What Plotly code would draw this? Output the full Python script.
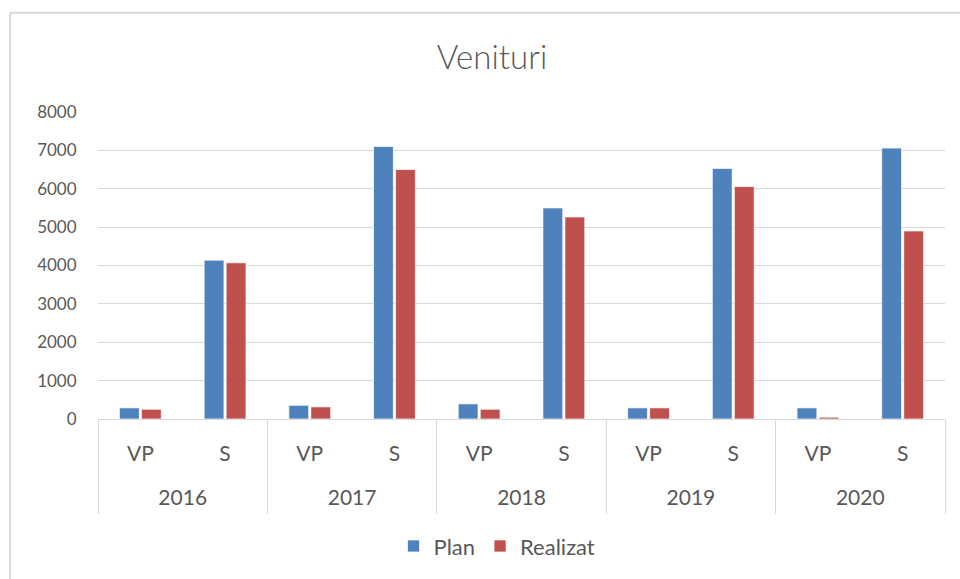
import plotly.graph_objects as go

years = ["2016", "2016", "2017", "2017", "2018", "2018", "2019", "2019", "2020", "2020"]
kinds = ["VP", "S", "VP", "S", "VP", "S", "VP", "S", "VP", "S"]
plan = [290, 4140, 357, 7100, 394, 5500, 290, 6530, 290, 7060]
realizat = [254, 4070, 316, 6500, 254, 5265, 290, 6057, 47, 4900]
y_ticks = [0, 1000, 2000, 3000, 4000, 5000, 6000, 7000, 8000]

FONT = "Lato"
TXT = "#595959"
GRID = "#d9d9d9"

pos = list(range(len(kinds)))
# group (year) centers and boundaries derived from the category lists
groups = []
for i, yv in enumerate(years):
    if not groups or groups[-1][0] != yv:
        groups.append([yv, i, i])
    else:
        groups[-1][2] = i
year_labels = [g[0] for g in groups]
year_centers = [(g[1] + g[2]) / 2 for g in groups]
bounds = [g[1] - 0.5 for g in groups] + [groups[-1][2] + 0.5]
xr = [-0.5, len(kinds) - 0.5]

fig = go.Figure()
fig.add_trace(go.Bar(x=pos, y=plan, name="Plan",
                     marker=dict(color="#4F81BD", line=dict(color="#ffffff", width=0.7))))
fig.add_trace(go.Bar(x=pos, y=realizat, name="Realizat",
                     marker=dict(color="#C0504D", line=dict(color="#ffffff", width=0.7))))
# invisible helper traces on the overlay axes so they render
fig.add_trace(go.Scatter(x=[xr[0]], y=[0], xaxis="x2", mode="markers",
                         marker=dict(opacity=0), showlegend=False, hoverinfo="skip"))
fig.add_trace(go.Scatter(x=[xr[0]], y=[0], xaxis="x3", mode="markers",
                         marker=dict(opacity=0), showlegend=False, hoverinfo="skip"))

fig.update_layout(
    width=960, height=579,
    paper_bgcolor="white", plot_bgcolor="white",
    margin=dict(l=98, r=15, t=112, b=158),
    barmode="group", bargap=0.48, bargroupgap=0.1,
    font=dict(family=FONT, color=TXT, size=17),
    title=dict(text="Venituri", x=492 / 960, xref="container", xanchor="center",
               y=1 - 57 / 579, yref="container", yanchor="middle",
               font=dict(family="Lato Light, Lato", size=33, color=TXT, weight=300)),
    legend=dict(orientation="h", x=(497 - 98) / 847, xanchor="center",
                y=(421 - 549) / 309, yanchor="middle",
                font=dict(family=FONT, size=22, color=TXT),
                traceorder="normal"),
    xaxis=dict(range=xr, tickvals=pos, ticktext=kinds, showgrid=False, zeroline=False,
               showline=True, linecolor=GRID, linewidth=1,
               ticks="outside", ticklen=16, tickcolor="rgba(0,0,0,0)",
               tickfont=dict(family=FONT, size=21, color=TXT)),
    xaxis2=dict(range=xr, overlaying="x", anchor="y", side="bottom",
                tickvals=year_centers, ticktext=year_labels, showgrid=False, zeroline=False,
                showline=False, ticks="outside", ticklen=60, tickcolor="rgba(0,0,0,0)",
                tickfont=dict(family=FONT, size=21, color=TXT)),
    xaxis3=dict(range=xr, overlaying="x", anchor="y", side="bottom",
                tickvals=bounds, showticklabels=False, showgrid=False, zeroline=False,
                showline=False, ticks="outside", ticklen=94, tickcolor=GRID, tickwidth=1),
    yaxis=dict(range=[0, 8000], tickvals=y_ticks, showgrid=True, gridcolor=GRID,
               gridwidth=1, zeroline=False, showline=False,
               ticks="outside", ticklen=17, tickcolor="rgba(0,0,0,0)",
               tickfont=dict(family=FONT, size=17, color=TXT)),
    shapes=[
        dict(type="line", xref="paper", yref="paper",
             x0=(10 - 98) / 847, x1=1.05, y0=(421 - 12) / 309, y1=(421 - 12) / 309,
             line=dict(color=GRID, width=2)),
        dict(type="line", xref="paper", yref="paper",
             x0=(10 - 98) / 847, x1=(10 - 98) / 847, y0=(421 - 12) / 309, y1=-0.6,
             line=dict(color=GRID, width=2)),
    ],
)

fig.write_html("out.html", config={"displayModeBar": False},
               post_script="document.body.style.margin='0';")
